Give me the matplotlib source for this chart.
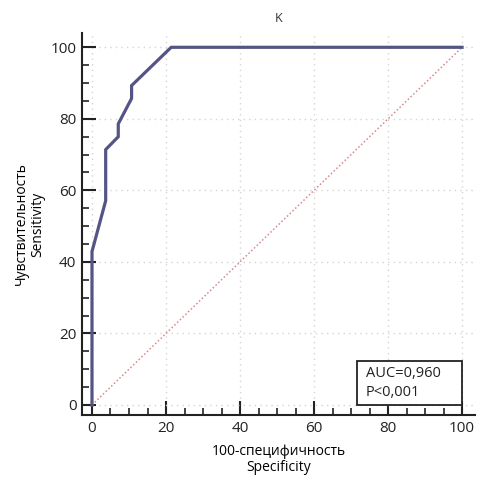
import matplotlib
matplotlib.use("Agg")
import matplotlib.pyplot as plt
from matplotlib.ticker import MultipleLocator
from matplotlib.patches import Rectangle

# ROC curve data (100-specificity, sensitivity)
fpr = [0, 0, 3.7, 3.7, 7.1, 7.1, 10.7, 10.7, 21.4, 100]
tpr = [0, 42.9, 57.1, 71.4, 75.0, 78.6, 85.7, 89.3, 100, 100]
diag_x = [0, 100]
diag_y = [0, 100]
title = "K"
auc_text = "AUC=0,960\nP<0,001"
xlabel = "100-специфичность\nSpecificity"
ylabel = "Чувствительность\nSensitivity"

plt.rcParams['font.family'] = ['Open Sans', 'DejaVu Sans']

fig = plt.figure(figsize=(5.0, 4.91), dpi=100)
ax = fig.add_axes([0.164, 0.1548, 0.786, 0.778])

ax.plot(diag_x, diag_y, color="#d98888", lw=1.1, ls=(0, (1, 1.5)), zorder=2)
ax.plot(fpr, tpr, color="#555585", lw=2.3, zorder=3, solid_joinstyle='miter')

ax.set_xlim(-2.7, 103.5)
ax.set_ylim(-2.8, 104)
ax.xaxis.set_major_locator(MultipleLocator(20))
ax.xaxis.set_minor_locator(MultipleLocator(5))
ax.yaxis.set_major_locator(MultipleLocator(20))
ax.yaxis.set_minor_locator(MultipleLocator(5))
ax.tick_params(which='major', direction='in', length=10, width=1.5, labelsize=11, colors='#222222', pad=4)
ax.tick_params(which='minor', direction='in', length=5, width=1.2, colors='#222222')
for s in ['top', 'right']:
    ax.spines[s].set_visible(False)
for s in ['left', 'bottom']:
    ax.spines[s].set_linewidth(1.5)
    ax.spines[s].set_color('#222222')

ax.grid(True, which='major', color='#d4d4d4', lw=1.0, ls=(0, (1, 3)), zorder=0)

ax.set_title(title, fontsize=9, pad=8, color='#333333')
ax.set_xlabel(xlabel, fontsize=10, linespacing=1.1, labelpad=6)
ax.set_ylabel(ylabel, fontsize=10, linespacing=1.1, labelpad=4)

box = Rectangle((71.6, 0), 28.4, 12.3, fill=True, facecolor='white', edgecolor='#222222', lw=1.3, zorder=4)
ax.add_patch(box)
ax.text(74, 6.2, auc_text, fontsize=10.5, va='center', ha='left', linespacing=1.35, zorder=5, color='#222222')

fig.savefig("out.png", dpi=100)
